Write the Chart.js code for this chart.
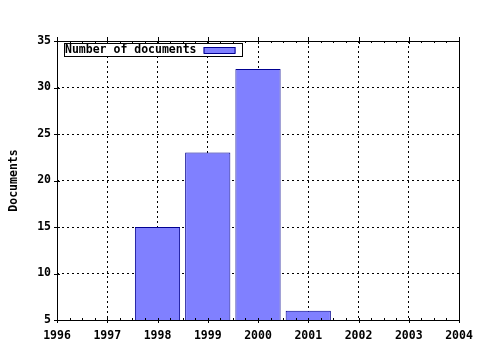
<!DOCTYPE html>
<html>
<head>
<meta charset="utf-8">
<script src="https://cdn.jsdelivr.net/npm/chart.js@4/dist/chart.umd.min.js"></script>
<style>
  html, body { margin: 0; padding: 0; background: #fff; }
  #wrap { width: 480px; height: 350px; }
</style>
</head>
<body>
<div id="wrap"><canvas id="docChart" width="480" height="350"></canvas></div>
<script>
// data
const years = [1998, 1999, 2000, 2001];
const docCounts = [15, 23, 32, 6];
const yTicks = [5, 10, 15, 20, 25, 30, 35];
const xTicks = [1996, 1997, 1998, 1999, 2000, 2001, 2002, 2003, 2004];

const FONT = "'DejaVu Sans Mono', monospace";

// box round the plot, tick marks and the legend
const framePlugin = {
    id: 'frame',
    afterDraw(chart) {
        const ctx = chart.ctx;
        const a = chart.chartArea;
        const xs = chart.scales.x;
        const ys = chart.scales.y;
        ctx.save();
        ctx.strokeStyle = '#000';
        ctx.lineWidth = 1;
        ctx.strokeRect(Math.round(a.left) + 0.5, Math.round(a.top) + 0.5,
            Math.round(a.right - a.left), Math.round(a.bottom - a.top));

        ctx.beginPath();
        xTicks.forEach((v, i) => {
            const px = Math.round(xs.getPixelForValue(v)) + 0.5;
            ctx.moveTo(px, a.bottom - 2); ctx.lineTo(px, a.bottom + 3);
            ctx.moveTo(px, a.top - 4); ctx.lineTo(px, a.top + 3);
            if (i < xTicks.length - 1) {
                for (let k = 1; k < 4; k++) {
                    const mx = Math.round(xs.getPixelForValue(v + k / 4)) + 0.5;
                    ctx.moveTo(mx, a.bottom); ctx.lineTo(mx, a.bottom - 2);
                    ctx.moveTo(mx, a.top); ctx.lineTo(mx, a.top + 2);
                }
            }
        });
        yTicks.forEach(v => {
            const py = Math.round(ys.getPixelForValue(v)) + 0.5;
            ctx.moveTo(a.left - 3, py); ctx.lineTo(a.left + 3, py);
        });
        ctx.stroke();

        // legend
        const ds = chart.data.datasets[0];
        ctx.font = "bold 11.5px " + FONT;
        ctx.textBaseline = 'middle';
        const lx = 64, ly = 43;
        const tw = ctx.measureText(ds.label).width;
        ctx.fillStyle = '#fff';
        ctx.fillRect(lx, ly, 179, 14);
        ctx.strokeRect(lx + 0.5, ly + 0.5, 178, 13);
        ctx.fillStyle = '#000';
        ctx.fillText(ds.label, lx + 1, ly + 7.5);
        ctx.fillStyle = ds.backgroundColor;
        ctx.fillRect(lx + tw + 8, ly + 4, 32, 6);
        ctx.strokeStyle = ds.borderColor;
        ctx.strokeRect(lx + tw + 8.5, ly + 4.5, 31, 6);
        ctx.restore();
    }
};

new Chart(document.getElementById('docChart'), {
    type: 'bar',
    data: {
        datasets: [{
            label: 'Number of documents',
            data: years.map((y, i) => ({ x: y, y: docCounts[i] })),
            backgroundColor: '#8080ff',
            borderColor: '#000090',
            borderWidth: 1,
            borderSkipped: false,
            barPercentage: 0.9,
            categoryPercentage: 1.0
        }]
    },
    options: {
        responsive: false,
        animation: false,
        layout: { padding: { left: 0, top: 41, right: 21, bottom: 0 } },
        plugins: { legend: { display: false }, tooltip: { enabled: false } },
        scales: {
            x: {
                type: 'linear',
                min: 1996,
                max: 2004,
                offset: false,
                afterFit(scale) {
                    scale.height = 30;
                    scale.paddingLeft = 0;
                    scale.paddingRight = 0;
                },
                afterBuildTicks(scale) { scale.ticks = xTicks.map(v => ({ value: v })); },
                ticks: {
                    autoSkip: false,
                    maxRotation: 0,
                    padding: 9,
                    color: '#000',
                    font: { family: FONT, size: 11.5, weight: 'bold' },
                    callback: v => String(v)
                },
                grid: { color: '#000', drawTicks: false, offset: false },
                border: { display: false, dash: [2, 3] }
            },
            y: {
                min: 5,
                max: 35,
                afterFit(scale) {
                    scale.width = 57;
                    scale.paddingTop = 0;
                    scale.paddingBottom = 0;
                },
                afterBuildTicks(scale) { scale.ticks = yTicks.map(v => ({ value: v })); },
                ticks: {
                    padding: 6,
                    color: '#000',
                    font: { family: FONT, size: 11.5, weight: 'bold' }
                },
                title: {
                    display: true,
                    text: 'Documents',
                    color: '#000',
                    padding: { top: 7, bottom: 0 },
                    font: { family: FONT, size: 11.5, weight: 'bold' }
                },
                grid: { color: '#000', drawTicks: false },
                border: { display: false, dash: [2, 3] }
            }
        }
    },
    plugins: [framePlugin]
});
</script>
</body>
</html>
